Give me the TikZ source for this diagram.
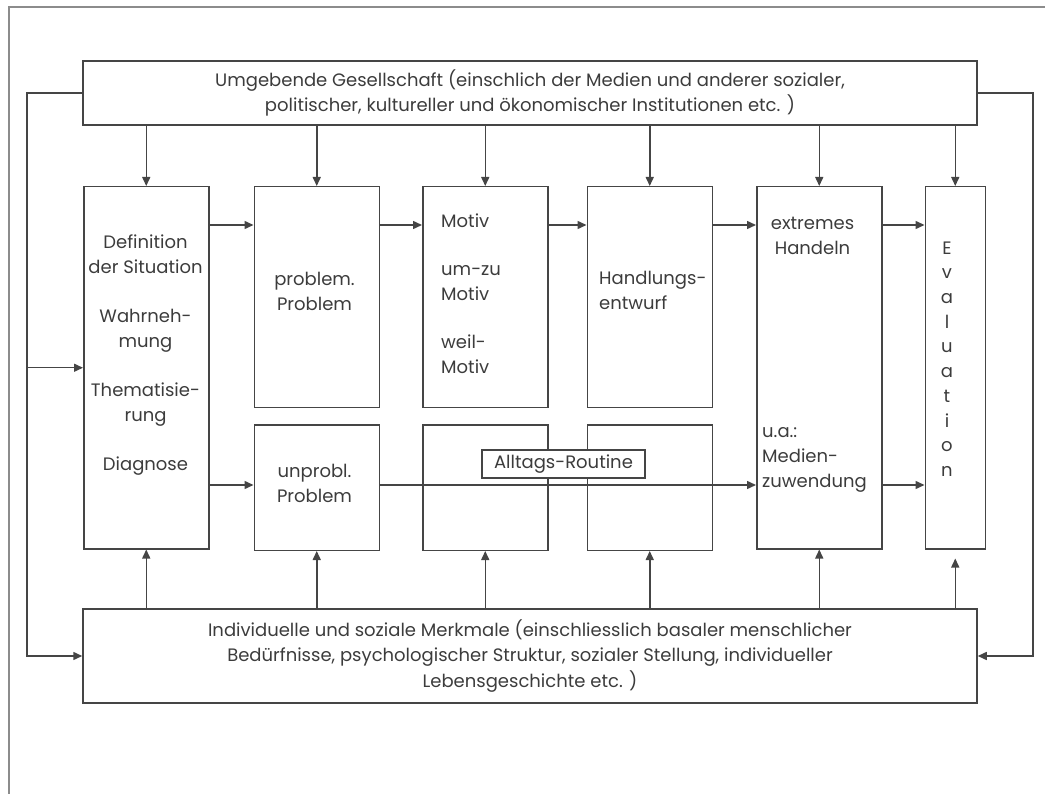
\documentclass[tikz,border=0pt]{standalone}
\usepackage{fontspec}
\setmainfont{Poppins}
\usetikzlibrary{arrows.meta,positioning}
\definecolor{linegray}{HTML}{454545}
\definecolor{textgray}{HTML}{3C3C3C}
\definecolor{framegray}{HTML}{8C8C8C}

\begin{document}
\begin{tikzpicture}[x=1pt, y=-1pt, box/.style={draw=linegray, line width=1.5pt, minimum width=125pt, inner sep=0pt, text=textgray, align=center, font=\fontsize{18}{25.5}\selectfont}, txt/.style={text=textgray, inner sep=0pt, font=\fontsize{18}{25}\selectfont}, arr/.style={-{Triangle[length=9pt,width=8pt]}, draw=linegray, line width=1.5pt}]
\useasboundingbox (0,0) rectangle (1045,794);
\draw[framegray, line width=1.5pt] (9,794) -- (9,7) -- (1045,7);
\node[box, minimum width=894pt, minimum height=64pt] (soc) at (530,93) {Umgebende Gesellschaft (einschlich der Medien und anderer sozialer,\\politischer, kultureller und ökonomischer Institutionen etc. )};
\node[box, minimum width=894pt, minimum height=94pt] (ind) at (530,656) {Individuelle und soziale Merkmale (einschliesslich basaler menschlicher\\Bedürfnisse, psychologischer Struktur, sozialer Stellung, individueller\\Lebensgeschichte etc. )};
% columns
\node[box, minimum height=362pt, anchor=north west] (def) at (83,186) {};
\node[box, minimum height=221pt, right=44pt of def.north east, anchor=north west] (prob) {};
\node[box, minimum height=125pt, below=16pt of prob.south west, anchor=north west] (unprob) {};
\node[box, minimum height=221pt, right=42pt of prob.north east, anchor=north west] (motiv) {};
\node[box, minimum height=125pt, below=16pt of motiv.south west, anchor=north west] (motivlow) {};
\node[box, minimum height=221pt, right=38pt of motiv.north east, anchor=north west] (entw) {};
\node[box, minimum height=125pt, below=16pt of entw.south west, anchor=north west] (entwlow) {};
\node[box, minimum height=362pt, right=43pt of entw.north east, anchor=north west] (ext) {};
\node[box, minimum height=362pt, minimum width=60pt, right=42pt of ext.north east, anchor=north west] (eval) {};
% texts
\node[txt, align=center] (deftxt) at (145.5,355) {Definition\\der Situation\\[24pt]Wahrneh-\\mung\\[24pt]Thematisie-\\rung\\[24pt]Diagnose};
\node[txt, align=center] (probtxt) at (314.5,291) {problem.\\Problem};
\node[txt, align=center] (unprobtxt) at (314.5,483) {unprobl.\\Problem};
\node[txt, align=left, anchor=west] (motivtxt) at (441,294) {Motiv\\[23pt]um-zu\\Motiv\\[23pt]weil-\\Motiv};
\node[txt, align=left, anchor=west] (entwtxt) at (599,290) {Handlungs-\\entwurf};
\node[txt, align=center] (exttxt) at (812.5,236) {extremes\\Handeln};
\node[txt, align=left, anchor=west] (medtxt) at (762,460) {u.a.:\\Medien-\\zuwendung};
\node[txt, align=center, font=\fontsize{18}{24.7}\selectfont] (evaltxt) at (947,359) {E\\v\\a\\l\\u\\a\\t\\i\\o\\n};
% arrows
\coordinate (hi) at (0,225);
\coordinate (lo) at (0,485);
\coordinate (lx) at (27,0);
\coordinate (rx) at (1033,0);
\foreach \n in {def,prob,motiv,entw,ext,eval}
  \draw[arr] (soc.south -| \n.north) -- (\n.north);
\foreach \n in {def,unprob,motivlow,entwlow,ext}
  \draw[arr] (ind.north -| \n.south) -- (\n.south);
\draw[arr, shorten >=9pt] (ind.north -| eval.south) -- (eval.south);
\draw[arr] (def.east |- hi) -- (prob.west |- hi);
\draw[arr] (prob.east |- hi) -- (motiv.west |- hi);
\draw[arr] (motiv.east |- hi) -- (entw.west |- hi);
\draw[arr] (entw.east |- hi) -- (ext.west |- hi);
\draw[arr] (ext.east |- hi) -- (eval.west |- hi);
\draw[arr] (def.east |- lo) -- (unprob.west |- lo);
\draw[arr] (unprob.east |- lo) -- (ext.west |- lo);
\draw[arr] (ext.east |- lo) -- (eval.west |- lo);
\draw[arr] (soc.west) -| (lx |- ind.west) -- (ind.west);
\draw[arr] (lx |- def.west) -- (def.west);
\draw[arr] (soc.east) -| (rx |- ind.east) -- (ind.east);
\node[box, minimum width=163pt, minimum height=28pt, fill=white] (rout) at (563.5,464) {Alltags-Routine};
\end{tikzpicture}
\end{document}
